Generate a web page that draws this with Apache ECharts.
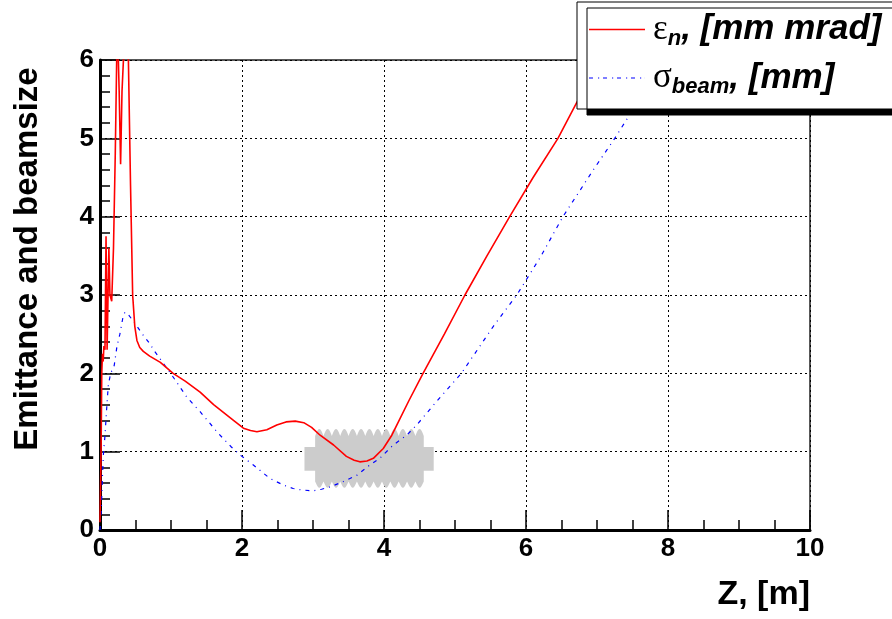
<!DOCTYPE html>
<html><head><meta charset="utf-8">
<script src="https://cdn.jsdelivr.net/npm/echarts@6/dist/echarts.min.js"></script>
<style>html,body{margin:0;padding:0;background:#fff}#c{width:892px;height:619px}</style>
</head><body><div id="c"></div>
<script>
// ---- data ----
const epsZ = [0.0, 0.015, 0.025, 0.035, 0.045, 0.055, 0.07, 0.085, 0.1, 0.125, 0.14, 0.165, 0.19, 0.215, 0.235, 0.25, 0.27, 0.29, 0.31, 0.33, 0.36, 0.40, 0.43, 0.46, 0.49, 0.52, 0.56, 0.61, 0.7, 0.85, 1.03, 1.2, 1.41, 1.6, 1.88, 2.02, 2.12, 2.21, 2.35, 2.49, 2.62, 2.75, 2.87, 2.98, 3.10, 3.29, 3.47, 3.58, 3.66, 3.76, 3.85, 3.99, 4.11, 4.18, 4.35, 4.55, 4.85, 5.14, 5.45, 5.77, 6.1, 6.45, 6.71, 7.05, 7.3];
const epsV = [0.1, 1.0, 2.0, 2.25, 2.15, 2.35, 2.3, 3.75, 2.3, 3.6, 3.0, 2.92, 3.6, 4.8, 6.0, 6.3, 5.6, 4.67, 5.6, 6.0, 6.5, 6.0, 4.4, 3.0, 2.6, 2.42, 2.33, 2.28, 2.22, 2.14, 2.0, 1.9, 1.76, 1.6, 1.4, 1.3, 1.27, 1.255, 1.28, 1.34, 1.38, 1.39, 1.37, 1.31, 1.21, 1.085, 0.94, 0.89, 0.87, 0.88, 0.915, 1.04, 1.21, 1.34, 1.65, 2.0, 2.5, 3.0, 3.5, 4.0, 4.5, 5.0, 5.45, 6.0, 6.4];
const sigZ = [0.0, 0.02, 0.035, 0.05, 0.07, 0.09, 0.117, 0.15, 0.2, 0.24, 0.28, 0.32, 0.35, 0.4, 0.49, 0.59, 0.7, 0.77, 0.89, 1.01, 1.22, 1.41, 1.67, 1.85, 1.97, 2.16, 2.39, 2.58, 2.72, 2.85, 3.0, 3.12, 3.24, 3.43, 3.62, 3.80, 3.94, 4.13, 4.32, 4.46, 4.74, 5.09, 5.54, 5.87, 6.2, 6.52, 6.95, 7.25, 7.46, 7.7, 8.0];
const sigV = [0.0, 0.3, 0.7, 1.0, 1.2, 1.5, 1.85, 2.0, 2.1, 2.35, 2.5, 2.7, 2.78, 2.75, 2.64, 2.51, 2.38, 2.28, 2.13, 1.98, 1.70, 1.51, 1.23, 1.06, 0.96, 0.83, 0.66, 0.575, 0.53, 0.51, 0.50, 0.52, 0.55, 0.62, 0.70, 0.83, 0.915, 1.085, 1.21, 1.34, 1.64, 2.0, 2.6, 3.0, 3.48, 4.0, 4.6, 5.0, 5.3, 5.65, 6.05];
const xTicks = [0, 2, 4, 6, 8, 10];
const yTicks = [0, 1, 2, 3, 4, 5, 6];
const seriesNames = ['eps', 'sigma'];
// accelerating cavity sketch (data units: z in m, value on y scale)
const cavityBodyZ = [3.03, 4.56];
const cavityTopV = [1.20, 1.29];     // valley, peak
const cavityBottomV = [0.62, 0.54];  // valley, peak
const cavityCells = 13;
const flangeZ = [2.88, 4.70];
const flangeV = [0.755, 1.06];

const chart = echarts.init(document.getElementById('c'), null, {renderer: 'canvas'});
const FONT = 'Liberation Sans';

function cavityRender(params, api) {
  const pts = [];
  const z0 = cavityBodyZ[0], z1 = cavityBodyZ[1];
  const w = (z1 - z0) / cavityCells;
  const K = 10;
  for (let i = 0; i < cavityCells; i++) {
    for (let k = 0; k <= K; k++) {
      const t = k / K;
      const v = cavityTopV[0] + (cavityTopV[1] - cavityTopV[0]) * Math.sin(Math.PI * t);
      pts.push(api.coord([z0 + (i + t) * w, v]));
    }
  }
  for (let i = cavityCells - 1; i >= 0; i--) {
    for (let k = K; k >= 0; k--) {
      const t = k / K;
      const v = cavityBottomV[0] + (cavityBottomV[1] - cavityBottomV[0]) * Math.sin(Math.PI * t);
      pts.push(api.coord([z0 + (i + t) * w, v]));
    }
  }
  const fl = [
    api.coord([flangeZ[0], flangeV[0]]), api.coord([flangeZ[1], flangeV[0]]),
    api.coord([flangeZ[1], flangeV[1]]), api.coord([flangeZ[0], flangeV[1]])
  ];
  return {
    type: 'group',
    children: [
      {type: 'polygon', shape: {points: fl}, style: {fill: '#cccccc'}},
      {type: 'polygon', shape: {points: pts}, style: {fill: '#cccccc'}}
    ]
  };
}

const solidIcon = 'path://M0,0h56v1.6h-56z';
const dashDotIcon = 'path://M0,0h4v1.2h-4z M9,0h1.2v1.2h-1.2z M14,0h4v1.2h-4z M23,0h1.2v1.2h-1.2z M28,0h4v1.2h-4z M37,0h1.2v1.2h-1.2z M42,0h4v1.2h-4z M51,0h1.2v1.2h-1.2z M55.9,0h0.1v1.2h-0.1z';

const option = {
  animation: false,
  backgroundColor: '#fff',
  grid: {left: 100, right: 82, top: 60, bottom: 89, show: true, borderColor: '#222', borderWidth: 1.5, backgroundColor: 'transparent'},
  legend: {
    orient: 'vertical', left: 577, top: 2,
    padding: [10, 30, 11, 12], itemGap: 11, itemWidth: 56, itemHeight: 1.6,
    backgroundColor: '#fff', borderColor: '#000', borderWidth: 1, borderRadius: 0,
    shadowColor: '#000', shadowOffsetX: 10, shadowOffsetY: 6, shadowBlur: 0,
    data: [{name: seriesNames[0], icon: solidIcon}, {name: seriesNames[1], icon: dashDotIcon}],
    formatter: function (name) {
      return name === 'eps' ? '{g|ε}{s|n}{t|, [mm mrad]}' : '{g|σ}{s|beam}{t|, [mm]}';
    },
    textStyle: {
      color: '#000',
      rich: {
        g: {fontFamily: 'Liberation Serif', fontSize: 35, color: '#000', lineHeight: 40, padding: [0, 0, 0, 3]},
        s: {fontFamily: FONT, fontWeight: 'bold', fontStyle: 'italic', fontSize: 22, color: '#000', verticalAlign: 'bottom', lineHeight: 22},
        t: {fontFamily: FONT, fontWeight: 'bold', fontStyle: 'italic', fontSize: 35, color: '#000', lineHeight: 40}
      }
    }
  },
  xAxis: {
    type: 'value', min: xTicks[0], max: xTicks[xTicks.length - 1], interval: xTicks[1] - xTicks[0],
    axisLine: {show: true, onZero: false, lineStyle: {color: '#000', width: 3}},
    axisTick: {show: true, inside: true, length: 20, lineStyle: {color: '#000', width: 1.5}},
    minorTick: {show: true, splitNumber: 4, length: 10, lineStyle: {color: '#000', width: 1.5}},
    splitLine: {show: true, lineStyle: {color: '#000', width: 1, type: [2, 3]}},
    axisLabel: {fontFamily: FONT, fontWeight: 'bold', fontSize: 26, color: '#000', margin: 6},
    name: 'Z, [m]', nameLocation: 'end', nameGap: 0,
    nameTextStyle: {fontFamily: FONT, fontWeight: 'bold', fontSize: 34, color: '#000', align: 'right', verticalAlign: 'top', padding: [48, 0, 0, 0]}
  },
  yAxis: {
    type: 'value', min: yTicks[0], max: yTicks[yTicks.length - 1], interval: yTicks[1] - yTicks[0],
    axisLine: {show: true, onZero: false, lineStyle: {color: '#000', width: 3}},
    axisTick: {show: true, inside: true, length: 20, lineStyle: {color: '#000', width: 1.5}},
    minorTick: {show: true, splitNumber: 5, length: 10, lineStyle: {color: '#000', width: 1.5}},
    splitLine: {show: true, lineStyle: {color: '#000', width: 1, type: [2, 3]}},
    axisLabel: {fontFamily: FONT, fontWeight: 'bold', fontSize: 26, color: '#000', margin: 6},
    name: 'Emittance and beamsize', nameLocation: 'middle', nameGap: 56,
    nameTextStyle: {fontFamily: FONT, fontWeight: 'bold', fontSize: 33, color: '#000', padding: [0, 0, 0, 72]}
  },
  series: [
    {type: 'custom', name: 'cavity', renderItem: cavityRender, data: [[cavityBodyZ[0], cavityTopV[0]]], z: 1, silent: true},
    {type: 'line', name: seriesNames[0], data: epsZ.map((z, i) => [z, epsV[i]]), showSymbol: false, symbol: 'none', z: 3, clip: true,
     lineStyle: {color: '#ff0000', width: 1.6}, itemStyle: {color: '#ff0000'}},
    {type: 'line', name: seriesNames[1], data: sigZ.map((z, i) => [z, sigV[i]]), showSymbol: false, symbol: 'none', z: 2, clip: true,
     lineStyle: {color: '#0000ff', width: 1.2, type: [4, 5, 1, 5]}, itemStyle: {color: '#0000ff'}}
  ]
};
chart.setOption(option);
</script></body></html>
